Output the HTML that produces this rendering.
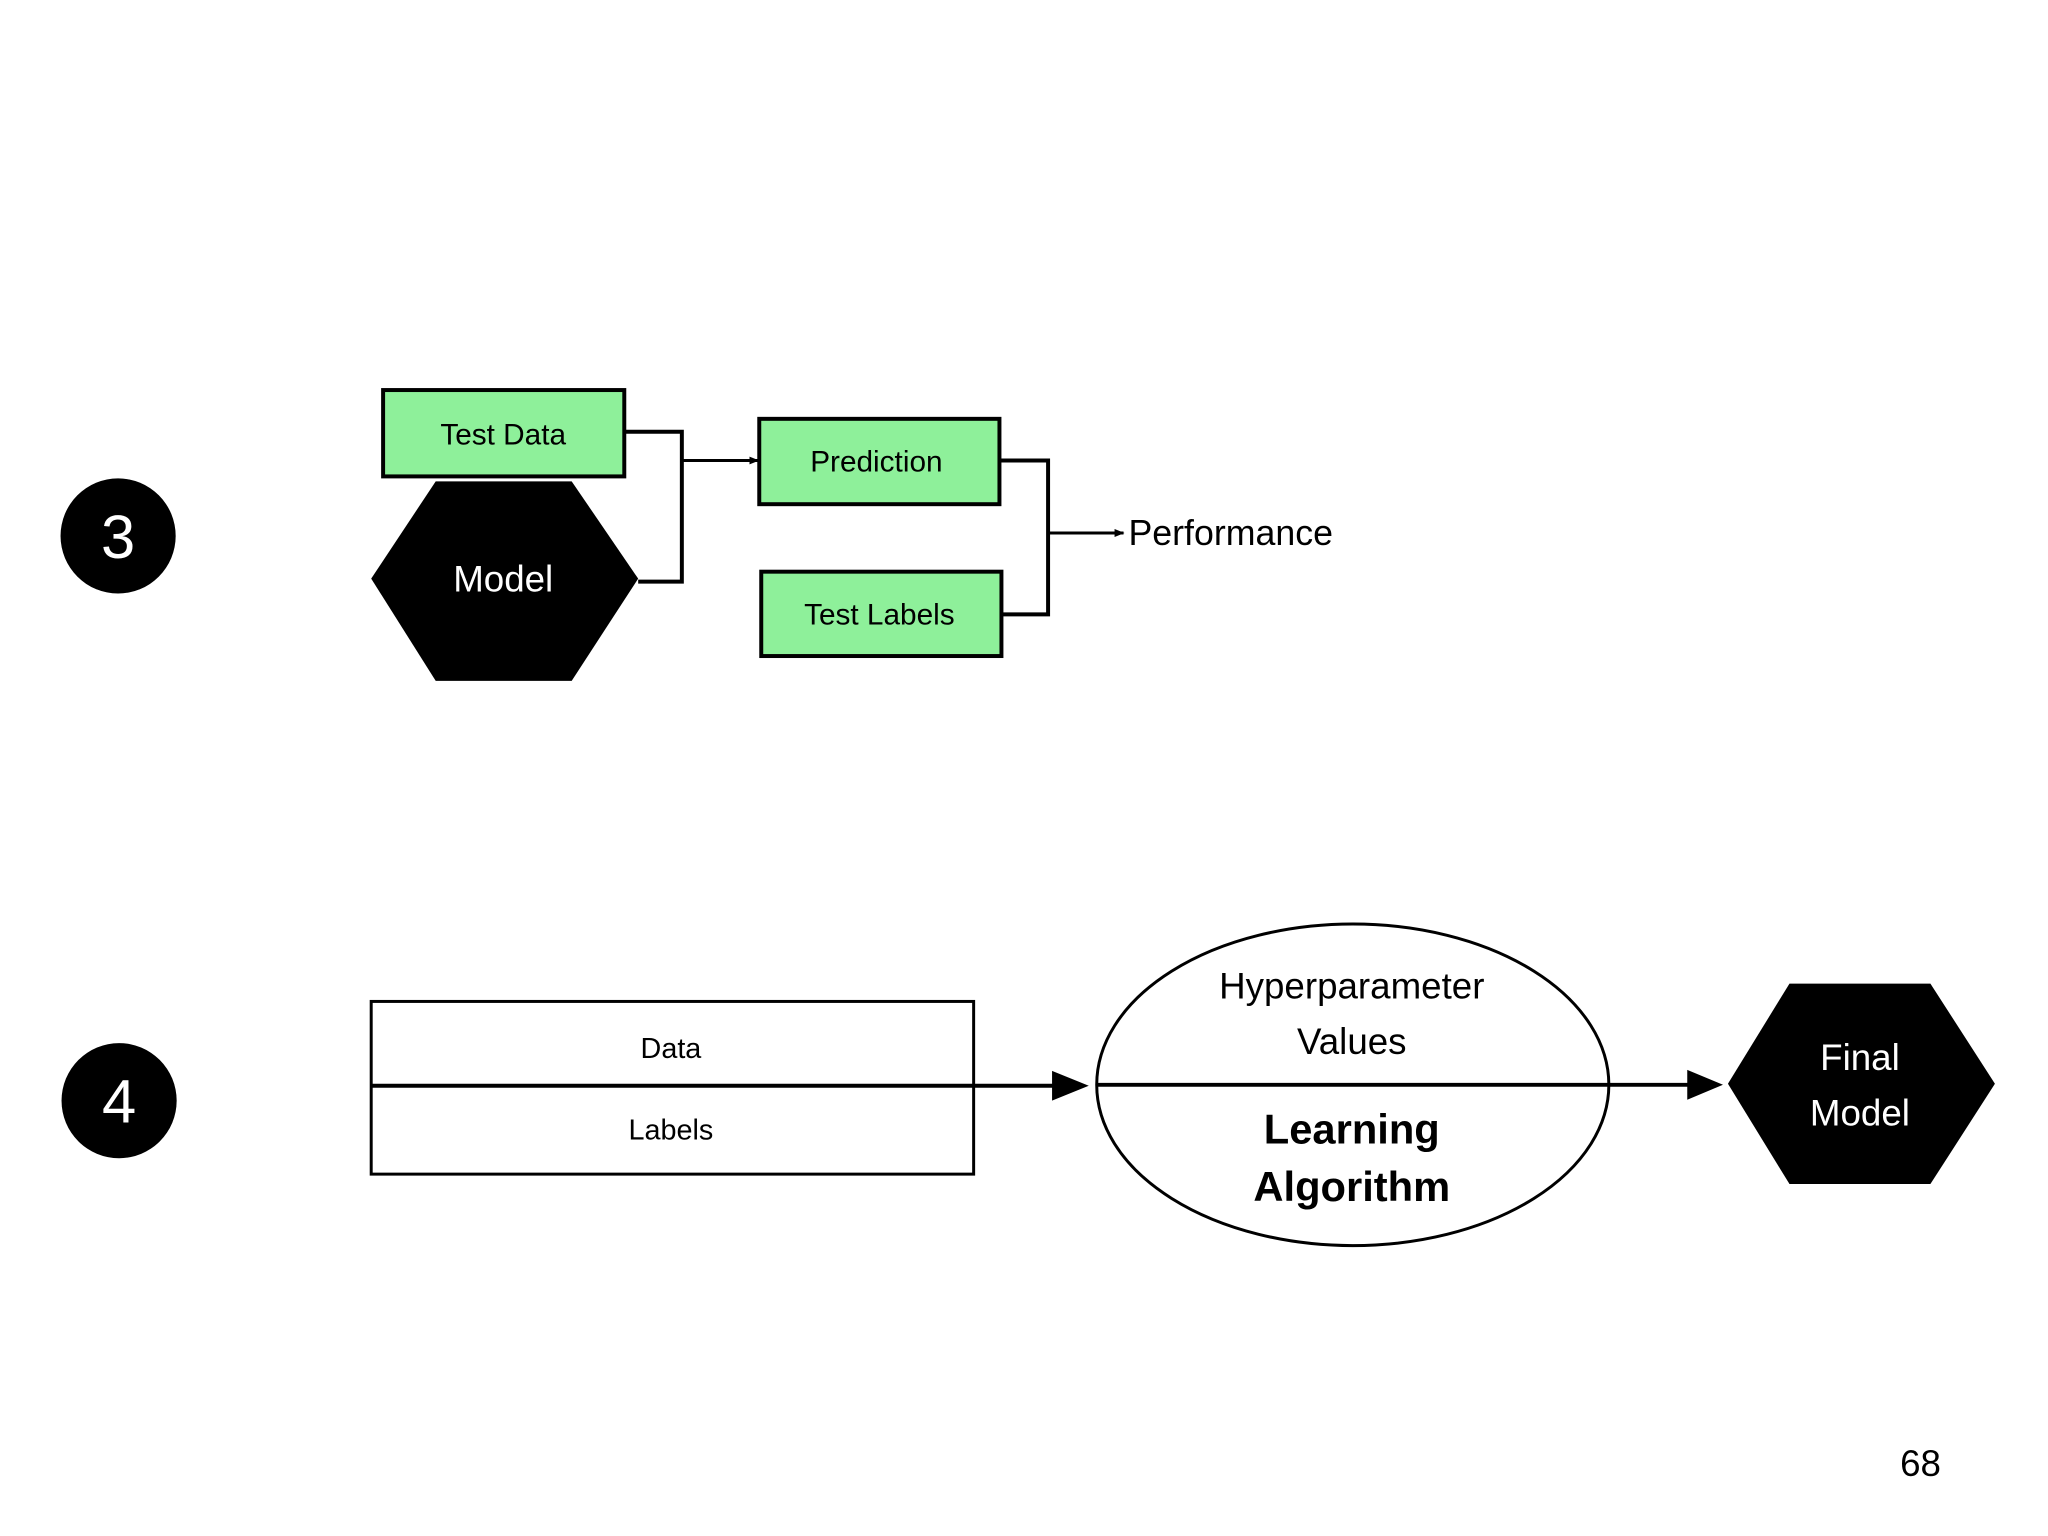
<!DOCTYPE html>
<html><head><meta charset="utf-8"><style>
html,body{margin:0;padding:0;background:#fff;}
svg{display:block;}
text{font-family:"Liberation Sans","DejaVu Sans",sans-serif;}
</style></head><body>
<svg width="2048" height="1536" viewBox="0 0 2048 1536" xmlns="http://www.w3.org/2000/svg">
<defs>
<marker id="sa" markerWidth="10" markerHeight="10" refX="9" refY="5" orient="auto" markerUnits="userSpaceOnUse"><path d="M0,1 L10,5 L0,9 Z" fill="#000"/></marker>
</defs>
<g transform="scale(0.9925)">
<circle cx="119" cy="540" r="58" fill="#000"/>
<text x="119" y="562" font-size="62" fill="#fff" text-anchor="middle">3</text>
<circle cx="120" cy="1109" r="58" fill="#000"/>
<text x="120" y="1131" font-size="62" fill="#fff" text-anchor="middle">4</text>

<rect x="386" y="393" width="243" height="87" fill="#8ef09a" stroke="#000" stroke-width="4"/>
<text x="507" y="448" font-size="30" text-anchor="middle">Test Data</text>
<polygon points="439,485 576,485 643,583 576,686 439,686 374,583" fill="#000"/>
<text x="507" y="596" font-size="37" fill="#fff" text-anchor="middle">Model</text>
<polyline points="630,435 687,435 687,586 643,586" fill="none" stroke="#000" stroke-width="4"/>
<line x1="687" y1="464" x2="764" y2="464" stroke="#000" stroke-width="3" marker-end="url(#sa)"/>
<rect x="765" y="422" width="242" height="86" fill="#8ef09a" stroke="#000" stroke-width="4"/>
<text x="883" y="475" font-size="30" text-anchor="middle">Prediction</text>
<rect x="767" y="576" width="242" height="85" fill="#8ef09a" stroke="#000" stroke-width="4"/>
<text x="886" y="629" font-size="30" text-anchor="middle">Test Labels</text>
<polyline points="1007,464 1056,464 1056,619 1009,619" fill="none" stroke="#000" stroke-width="4"/>
<line x1="1056" y1="537" x2="1132" y2="537" stroke="#000" stroke-width="3" marker-end="url(#sa)"/>
<text x="1137" y="549" font-size="36">Performance</text>

<rect x="374" y="1009" width="607" height="174" fill="#fff" stroke="#000" stroke-width="3"/>
<line x1="374" y1="1094" x2="1062" y2="1094" stroke="#000" stroke-width="4"/>
<text x="676" y="1066" font-size="29" text-anchor="middle">Data</text>
<text x="676" y="1148" font-size="29" text-anchor="middle">Labels</text>
<polygon points="1060,1079 1097,1094 1060,1109" fill="#000"/>
<ellipse cx="1363" cy="1093" rx="258" ry="162" fill="#fff" stroke="#000" stroke-width="3"/>
<line x1="1105" y1="1093" x2="1702" y2="1093" stroke="#000" stroke-width="4"/>
<polygon points="1700,1078 1736,1093 1700,1108" fill="#000"/>
<text x="1362" y="1006" font-size="37" text-anchor="middle">Hyperparameter</text>
<text x="1362" y="1062" font-size="37" text-anchor="middle">Values</text>
<text x="1362" y="1152" font-size="42" font-weight="bold" text-anchor="middle">Learning</text>
<text x="1362" y="1210" font-size="42" font-weight="bold" text-anchor="middle">Algorithm</text>
<polygon points="1803,991 1945,991 2010,1092 1945,1193 1803,1193 1741,1092" fill="#000"/>
<text x="1874" y="1078" font-size="37" fill="#fff" text-anchor="middle">Final</text>
<text x="1874" y="1134" font-size="37" fill="#fff" text-anchor="middle">Model</text>

<text x="1935" y="1487" font-size="37" text-anchor="middle">68</text>
</g>
</svg>
</body></html>
